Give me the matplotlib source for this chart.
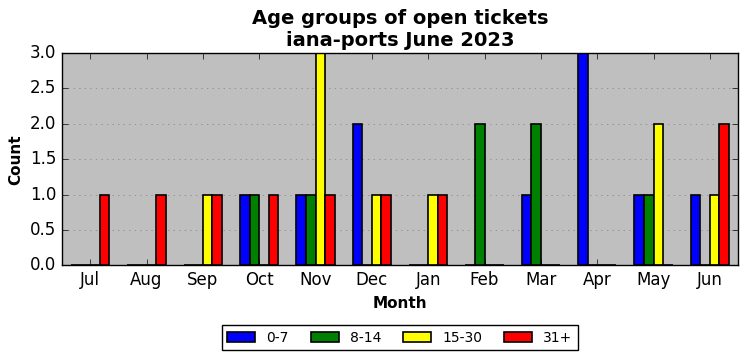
import matplotlib
matplotlib.use("Agg")
import matplotlib.pyplot as plt
import numpy as np

months = ["Jul", "Aug", "Sep", "Oct", "Nov", "Dec", "Jan", "Feb", "Mar", "Apr", "May", "Jun"]
age_groups = ["0-7", "8-14", "15-30", "31+"]
counts_0_7 = [0, 0, 0, 1, 1, 2, 0, 0, 1, 3, 1, 1]
counts_8_14 = [0, 0, 0, 1, 1, 0, 0, 2, 2, 0, 1, 0]
counts_15_30 = [0, 0, 1, 0, 3, 1, 1, 0, 0, 0, 2, 1]
counts_31 = [1, 1, 1, 1, 1, 1, 1, 0, 0, 0, 0, 2]
colors = ["blue", "green", "yellow", "red"]

plt.style.use("classic")
fig, ax = plt.subplots(figsize=(7.47, 3.61), dpi=100)
fig.subplots_adjust(left=0.083, right=0.988, top=0.853, bottom=0.265)
ax.set_facecolor("#bfbfbf")

x = np.arange(len(months))
w = 0.17
for i, (vals, lab) in enumerate(zip([counts_0_7, counts_8_14, counts_15_30, counts_31], age_groups)):
    ax.bar(x + (i - 1.5) * w, vals, w, color=colors[i], edgecolor="black",
           linewidth=1.2, label=lab, align="center")

ax.set_xlim(-0.5, len(months) - 0.5)
ax.set_ylim(0, 3)
ax.set_xticks(x)
ax.set_xticklabels(months)
ax.set_yticks(np.arange(0, 3.01, 0.5))
ax.yaxis.grid(True, color="gray", linestyle=":")
ax.set_axisbelow(True)
ax.set_xlabel("Month", fontweight="bold", fontsize=11)
ax.set_ylabel("Count", fontweight="bold", fontsize=11)
ax.set_title("Age groups of open tickets\niana-ports June 2023", fontweight="bold", fontsize=14)
ax.legend(loc="upper center", bbox_to_anchor=(0.5, -0.25), ncol=4, fontsize=10,
          columnspacing=1.6)

fig.savefig("out.png", dpi=100)
